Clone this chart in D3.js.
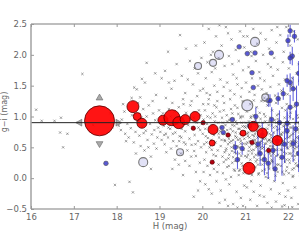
<!DOCTYPE html>
<html>
<head>
<meta charset="utf-8">
<script src="https://cdn.jsdelivr.net/npm/d3@7"></script>
<style>
  html, body { margin: 0; padding: 0; background: #fff; }
  svg { display: block; font-family: "DejaVu Sans", sans-serif; }
</style>
</head>
<body>
<div id="chart"></div>
<script>
// colour vs absolute magnitude scatter

const xTicks = [16, 17, 18, 19, 20, 21, 22];
const yTicks = [-0.5, 0.0, 0.5, 1.0, 1.5, 2.0, 2.5];
const meanLine = 0.9;

// faint field points [H, colour]
const fieldA = [[16.12,1.11],[16.7,0.98],[16.75,0.5],[16.68,0.74],[16.85,0.72],[16.25,0.93],[17.2,1.69],
  [17.96,-0.11],[17.45,0.86],[17.1,0.9],[16.55,0.93],[17.85,1.05],[17.9,0.83]];
const fieldB = [[18.3,-0.06],[18.38,-0.23],[18.41,1.47],[18.47,1.44],[18.59,1.61],[18.7,1.87],[18.55,1.31],
  [18.05,0.85],[18.1,0.78],[18.12,0.95],[18.18,1.08],[18.2,0.72],[18.25,0.88],[18.28,0.66],[18.33,0.81],
  [18.36,1.02],[18.4,0.58],[18.44,0.75],[18.48,0.93],[18.5,1.22],[18.53,0.69],[18.56,0.52],[18.6,0.84],
  [18.62,1.12],[18.65,0.45],[18.68,0.77],[18.7,1.0],[18.72,0.62],[18.75,1.18],[18.78,0.88],[18.8,0.35],
  [18.82,0.71],[18.85,1.05],[18.87,0.56],[18.9,0.94],[18.92,1.35],[18.95,0.66],[18.97,0.82],[18.99,1.1],
  [18.15,1.2],[18.22,0.6],[18.45,0.4],[18.58,0.98],[18.63,0.73],[18.74,0.5],[18.84,1.25],[18.88,0.78],
  [18.93,0.48],[18.35,1.3],[18.66,1.55],[18.9,1.7],[18.8,0.15]];
const fieldC = [[19.05,1.62],[19.13,1.74],[19.2,2.05],[19.28,1.45],[19.35,1.58],[19.48,2.32],[19.52,1.66],
  [19.6,1.38],[19.71,1.9],[19.78,1.52],[19.85,2.15],[19.9,1.7],[19.95,1.42],[19.4,1.85],[19.62,2.1],
  [19.15,1.3],[19.3,1.22],[19.55,1.28],[19.75,1.25],[19.88,1.33],[19.98,1.95],[19.22,1.55],[19.66,1.6],
  [19.82,1.78],[19.02,0.75],[19.05,0.62],[19.08,1.05],[19.1,0.85],[19.12,0.55],[19.15,0.72],[19.18,0.95],
  [19.2,0.66],[19.22,1.12],[19.25,0.8],[19.27,0.48],[19.3,0.9],[19.32,0.6],[19.35,1.08],[19.37,0.74],
  [19.4,0.52],[19.42,0.88],[19.45,1.15],[19.47,0.68],[19.5,0.4],[19.52,0.8],[19.55,0.98],[19.57,0.58],
  [19.6,0.76],[19.62,1.06],[19.65,0.45],[19.67,0.86],[19.7,0.64],[19.72,1.18],[19.75,0.54],[19.77,0.82],
  [19.8,0.98],[19.82,0.7],[19.85,0.36],[19.87,0.9],[19.9,0.6],[19.92,1.1],[19.95,0.78],[19.97,0.5],
  [19.99,0.88],[19.06,0.92],[19.16,0.42],[19.26,1.0],[19.36,0.3],[19.46,0.6],[19.56,1.2],[19.64,0.92],
  [19.74,0.35],[19.84,0.55],[19.94,0.25],[19.11,0.7],[19.21,0.82],[19.31,0.72],[19.41,0.98],[19.51,0.66],
  [19.61,0.55],[19.71,0.95],[19.81,0.44],[19.91,0.82],[19.96,1.02],[19.3,0.15],[19.55,0.05],[19.7,0.2],
  [19.85,0.1],[19.95,-0.05],[19.6,0.28],[19.45,0.22],[19.9,-0.2],[19.8,-0.3]];
const fieldD = [[20.02,1.45],[20.05,2.2],[20.08,1.62],[20.12,1.88],[20.15,2.42],[20.18,1.35],[20.22,1.72],
  [20.25,2.05],[20.28,1.5],[20.32,2.3],[20.35,1.4],[20.38,1.95],[20.42,1.6],[20.45,2.15],[20.48,1.33],
  [20.52,1.82],[20.55,2.45],[20.58,1.55],[20.62,1.98],[20.65,1.42],[20.68,2.25],[20.72,1.68],[20.75,1.36],
  [20.78,2.08],[20.82,1.52],[20.85,1.9],[20.88,2.38],[20.92,1.46],[20.95,1.75],[20.98,2.12],[20.1,1.38],
  [20.3,1.78],[20.5,1.48],[20.7,1.85],[20.9,1.32],[20.6,2.35],[20.4,2.48],[20.2,2.0],[20.8,1.62],[20.96,2.3],
  [20.01,0.72],[20.03,0.95],[20.04,0.55],[20.06,1.1],[20.07,0.8],[20.09,0.42],[20.11,0.88],[20.13,0.65],
  [20.14,1.2],[20.16,0.75],[20.17,0.5],[20.19,0.98],[20.21,0.62],[20.23,0.85],[20.24,1.05],[20.26,0.38],
  [20.27,0.7],[20.29,0.92],[20.31,0.58],[20.33,1.15],[20.34,0.78],[20.36,0.45],[20.37,0.9],[20.39,0.66],
  [20.41,1.08],[20.43,0.52],[20.44,0.82],[20.46,0.98],[20.47,0.35],[20.49,0.72],[20.51,1.22],[20.53,0.6],
  [20.54,0.86],[20.56,0.48],[20.57,1.02],[20.59,0.7],[20.61,0.32],[20.63,0.94],[20.64,0.58],[20.66,0.8],
  [20.67,1.12],[20.69,0.44],[20.71,0.76],[20.73,0.96],[20.74,0.54],[20.76,1.18],[20.77,0.68],[20.79,0.4],
  [20.81,0.88],[20.83,0.62],[20.84,1.04],[20.86,0.5],[20.87,0.8],[20.89,0.98],[20.91,0.36],[20.93,0.7],
  [20.94,1.25],[20.97,0.56],[20.99,0.84],[20.05,0.3],[20.15,1.28],[20.25,0.55],[20.35,1.25],[20.45,0.62],
  [20.55,0.3],[20.65,1.28],[20.75,0.85],[20.85,0.3],[20.95,1.0],[20.08,0.68],[20.18,0.82],[20.28,1.18],
  [20.38,0.72],[20.48,0.9],[20.58,0.92],[20.68,0.6],[20.78,0.74],[20.88,0.64],[20.98,0.76],[20.12,1.0],
  [20.32,0.36],[20.52,0.42],[20.72,0.34],[20.92,0.9],[20.22,0.46],[20.42,0.76],[20.62,0.64],[20.82,1.14],
  [20.02,1.2],[20.5,1.1],[20.7,1.05],[20.9,0.6],[20.3,1.0],[20.1,0.58],
  [20.03,0.1],[20.07,-0.1],[20.12,0.2],[20.18,0.05],[20.22,-0.25],[20.27,0.15],[20.33,-0.05],[20.38,0.22],
  [20.43,-0.2],[20.48,0.08],[20.53,-0.35],[20.58,0.18],[20.63,-0.1],[20.67,0.02],[20.72,-0.42],[20.76,0.12],
  [20.8,-0.22],[20.85,0.05],[20.9,-0.32],[20.94,0.2],[20.98,-0.12],[20.15,-0.18],[20.4,-0.4],[20.6,-0.45],
  [20.82,-0.48],[20.7,0.25],[20.5,0.26],[20.25,0.28],[20.95,-0.45],[20.88,0.14],[20.35,0.1],[20.55,-0.02]];
const fieldE = [[21.02,1.55],[21.05,2.3],[21.08,1.8],[21.1,1.4],[21.13,2.05],[21.16,1.62],[21.19,2.42],
  [21.22,1.35],[21.25,1.9],[21.28,2.18],[21.3,1.5],[21.33,1.72],[21.36,2.35],[21.39,1.44],[21.42,2.0],
  [21.45,1.58],[21.48,2.25],[21.5,1.38],[21.53,1.85],[21.56,2.1],[21.59,1.48],[21.62,2.4],[21.65,1.66],
  [21.68,1.95],[21.7,1.34],[21.73,2.2],[21.76,1.76],[21.79,1.52],[21.82,2.32],[21.85,1.42],[21.88,1.88],
  [21.9,2.05],[21.93,1.6],[21.96,2.45],[21.99,1.36],[22.02,1.78],[22.05,2.15],[22.08,1.5],[22.11,1.95],
  [22.14,2.38],[22.17,1.45],[22.2,1.7],[22.23,2.25],[22.26,1.58],[22.29,2.0],[22.32,1.4],[21.15,1.98],
  [21.45,1.3],[21.75,2.45],[22.1,1.62],[22.25,1.85],[21.6,1.8],[21.35,1.62],[22.3,2.4],
  [21.01,0.82],[21.03,0.55],[21.04,1.08],[21.06,0.68],[21.07,0.38],[21.09,0.92],[21.11,0.6],[21.12,1.2],
  [21.14,0.76],[21.15,0.45],[21.17,0.88],[21.18,0.62],[21.2,1.02],[21.21,0.34],[21.23,0.72],[21.24,0.94],
  [21.26,0.5],[21.27,1.15],[21.29,0.66],[21.31,0.84],[21.32,0.4],[21.34,1.06],[21.35,0.58],[21.37,0.78],
  [21.38,1.25],[21.4,0.48],[21.41,0.9],[21.43,0.64],[21.44,0.32],[21.46,0.8],[21.47,1.0],[21.49,0.56],
  [21.51,0.74],[21.52,1.18],[21.54,0.42],[21.55,0.86],[21.57,0.62],[21.58,0.98],[21.6,0.36],[21.61,0.7],
  [21.63,1.1],[21.64,0.52],[21.66,0.82],[21.67,0.44],[21.69,0.94],[21.71,0.66],[21.72,1.22],[21.74,0.58],
  [21.75,0.78],[21.77,0.38],[21.78,1.04],[21.8,0.6],[21.81,0.88],[21.83,0.46],[21.84,0.72],[21.86,1.14],
  [21.87,0.54],[21.89,0.84],[21.91,0.34],[21.92,0.98],[21.94,0.64],[21.95,0.8],[21.97,1.2],[21.98,0.5],
  [22.0,0.74],[22.01,0.92],[22.03,0.4],[22.04,0.68],[22.06,1.06],[22.07,0.56],[22.09,0.82],[22.1,0.36],
  [22.12,0.96],[22.13,0.62],[22.15,1.16],[22.16,0.48],[22.18,0.76],[22.19,0.9],[22.21,0.42],[22.22,1.02],
  [22.24,0.66],[22.25,0.52],[22.27,0.86],[22.28,1.24],[22.3,0.6],[22.31,0.78],[22.33,0.44],[22.34,0.96],
  [21.05,0.72],[21.13,0.98],[21.22,0.56],[21.3,0.9],[21.39,0.7],[21.48,0.44],[21.56,0.92],[21.65,0.62],
  [21.73,0.84],[21.82,0.68],[21.9,0.58],[21.99,0.86],[22.08,0.7],[22.17,0.6],[22.26,0.74],[22.32,0.7],
  [21.1,0.5],[21.28,0.3],[21.46,1.25],[21.62,0.3],[21.8,1.28],[21.96,0.3],[22.14,0.3],[22.3,1.3],
  [21.2,1.26],[21.58,0.52],[21.76,0.96],[21.94,1.1],[22.12,0.5],[22.22,0.82],[21.36,0.96],[21.52,0.6],
  [21.7,0.46],[21.88,0.74],[22.04,0.88],[22.2,0.58],
  [21.01,0.12],[21.04,-0.15],[21.08,0.24],[21.12,-0.35],[21.16,0.05],[21.2,-0.22],[21.24,0.18],[21.28,-0.45],
  [21.32,0.08],[21.36,-0.12],[21.4,0.22],[21.44,-0.3],[21.48,0.02],[21.52,-0.4],[21.56,0.15],[21.6,-0.18],
  [21.64,0.26],[21.68,-0.05],[21.72,-0.38],[21.76,0.1],[21.8,-0.25],[21.84,0.2],[21.88,-0.08],[21.92,-0.44],
  [21.96,0.12],[22.0,-0.2],[22.04,0.25],[22.08,-0.32],[22.12,0.04],[22.16,-0.15],[22.2,0.2],[22.24,-0.42],
  [22.28,0.06],[22.32,-0.24],[21.14,-0.05],[21.34,-0.28],[21.54,0.0],[21.74,0.22],[21.94,-0.3],[22.14,0.16],
  [22.3,-0.1],[21.62,-0.48],[21.86,-0.46],[22.1,-0.47],[21.25,0.27],[21.46,0.14],[22.26,0.28],[22.02,0.08]];
// the dark core of the faint population
const fieldF = [[20.52,0.62],[20.55,0.45],[20.58,0.78],[20.6,0.55],[20.63,0.38],[20.65,0.7],[20.68,0.5],
  [20.7,0.86],[20.72,0.62],[20.75,0.42],[20.77,0.28],[20.8,0.66],[20.82,0.52],[20.84,0.8],[20.86,0.4],
  [20.88,0.72],[20.9,0.56],[20.92,0.24],[20.94,0.84],[20.96,0.46],[20.98,0.64],[21.0,0.36],[21.02,0.9],
  [21.03,0.2],[21.05,0.58],[21.07,0.74],[21.08,0.44],[21.1,0.66],[21.12,0.3],[21.13,0.82],[21.15,0.54],
  [21.17,0.7],[21.18,0.16],[21.2,0.46],[21.22,0.88],[21.23,0.62],[21.25,0.38],[21.27,0.76],[21.28,0.52],
  [21.3,0.22],[21.32,0.68],[21.33,0.44],[21.35,0.84],[21.37,0.3],[21.38,0.6],[21.4,0.12],[21.42,0.76],
  [21.43,0.5],[21.45,0.36],[21.47,0.92],[21.48,0.64],[21.5,0.26],[21.52,0.8],[21.53,0.48],[21.55,0.18],
  [21.57,0.72],[21.58,0.4],[21.6,0.58],[21.62,0.86],[21.63,0.28],[21.65,0.5],[21.67,0.74],[21.68,0.14],
  [21.7,0.62],[21.72,0.36],[21.73,0.9],[21.75,0.46],[21.77,0.68],[21.78,0.22],[21.8,0.8],[21.82,0.54],
  [21.83,0.32],[21.85,0.7],[21.87,0.1],[21.88,0.6],[21.9,0.42],[21.92,0.86],[21.93,0.26],[21.95,0.56],
  [21.97,0.74],[21.98,0.18],[22.0,0.48],[22.02,0.66],[22.03,0.3],[22.05,0.82],[22.07,0.4],[22.08,0.6],
  [22.1,0.14],[22.12,0.72],[22.13,0.44],[22.15,0.56],[22.17,0.88],[22.18,0.24],[22.2,0.66],[22.22,0.38],
  [22.23,0.78],[22.25,0.2],[22.27,0.54],[22.28,0.42],[22.3,0.84],[22.32,0.3],[22.33,0.62],[22.35,0.48],
  [21.04,0.34],[21.16,0.4],[21.26,0.58],[21.36,0.5],[21.46,0.56],[21.56,0.62],[21.66,0.4],[21.76,0.56],
  [21.86,0.46],[21.96,0.4],[22.06,0.52],[22.16,0.36],[22.26,0.64],[22.34,0.22],[21.11,0.1],[21.31,0.06],
  [21.51,0.08],[21.71,0.04],[21.91,0.06],[22.11,0.02],[22.31,0.08],[21.21,0.68],[21.41,0.64],[21.61,0.66],
  [21.81,0.62],[22.01,0.58],[22.21,0.5],[20.62,0.2],[20.74,0.14],[20.86,0.12],[20.96,0.08],[20.66,0.96],
  [20.78,0.92],[20.9,1.0],[21.14,1.0],[21.44,1.04],[21.74,1.02],[22.04,1.0],[22.24,0.98]];

// blue points [H, colour, error]
const bluePts = [[20.86,2.13,0],[21.05,2.02,0],[21.23,2.03,0],[21.61,2.03,0],[22.05,2.39,0.1],[22.0,2.23,0.1],
  [22.1,1.98,0.15],[21.16,1.71,0],[22.05,1.55,0.15],[21.19,1.47,0],[21.54,1.26,0.1],[21.77,1.29,0.1],
  [21.89,1.37,0.1],[17.75,0.24,0],[20.46,0.82,0],[20.93,0.48,0.1],[21.35,0.4,0.2],[21.54,0.24,0.25],
  [21.86,0.34,0.3],[21.98,0.77,0.3],[20.49,0.74,0],[20.77,0.5,0.1],[21.98,0.89,0.25],[22.12,0.56,0.3],
  [21.58,1.26,0.1],[22.05,1.15,0.2],[21.98,1.58,0.1],[22.05,1.95,0.1],[22.25,1.7,0.2],[22.2,1.2,0.3],
  [22.3,0.9,0.35],[21.75,0.6,0.25],[21.4,0.7,0.2],[21.1,0.85,0],[20.7,0.95,0],[22.25,0.4,0.3],
  [22.15,2.3,0.1],[21.7,0.15,0.2],[21.3,0.55,0.2],[21.45,0.3,0.25],[21.65,0.45,0.3],[21.8,0.9,0.2],
  [21.92,0.55,0.3],[22.18,0.8,0.3],[22.28,0.2,0.25],[21.25,1.0,0.15],[21.62,0.95,0.2],[22.12,1.45,0.2],
  [20.82,0.3,0.15]];

// open grey circles [H, colour, radius]
const openPts = [[20.39,2.0,4.5],[20.25,1.87,3.5],[19.9,1.82,3.5],[21.23,2.21,4.5],[21.05,1.18,5.5],
  [21.47,1.31,3.5],[18.62,0.26,4.5],[19.48,0.42,3.5]];

// red points [H, colour, radius]
const redPts = [[17.6,0.93,15],[18.38,1.16,6],[18.48,1.0,4],[18.59,0.89,5],[19.08,0.94,5],[19.29,0.98,8],
  [19.45,0.9,6],[19.6,0.95,5],[19.83,1.0,5],[20.25,0.79,5],[20.23,0.57,3],[21.19,0.84,5],[21.4,0.73,5],
  [21.75,0.61,5],[21.09,0.16,6],[20.95,0.73,3]];
// small dark red points [H, colour]
const smallRed = [[20.02,0.9],[21.16,0.58],[20.23,0.26],[19.79,0.81],[21.55,0.45],[20.6,0.7]];

// limits around the brightest object
const bigH = 17.6;
const bigColLimits = [0.56, 1.3];
const bigHLimits = [17.14, 18.03];

const W = 299, H = 240;
const svg = d3.select('#chart').append('svg').attr('width', W).attr('height', H);

const x = d3.scaleLinear().domain([16, 22.5]).range([31, 309.4]);
const y = d3.scaleLinear().domain([-0.5, 2.5]).range([209, 24]);

svg.append('clipPath').attr('id', 'clip').append('rect')
    .attr('x', 31).attr('y', 24).attr('width', 280).attr('height', 185);

const plot = svg.append('g').attr('clip-path', 'url(#clip)');

// field points as little crosses
const field = fieldA.concat(fieldB, fieldC, fieldD, fieldE, fieldF);
plot.append('g').selectAll('path').data(field).enter().append('path')
    .attr('d', d => {
        const px = x(d[0]), py = y(d[1]), s = 1.2;
        return `M${px - s},${py - s}L${px + s},${py + s}M${px - s},${py + s}L${px + s},${py - s}`;
    })
    .attr('stroke', '#333')
    .attr('stroke-opacity', 0.55)
    .attr('stroke-width', 0.8)
    .attr('fill', 'none');

// blue error bars and points
plot.append('g').selectAll('line').data(bluePts.filter(d => d[2] > 0)).enter().append('line')
    .attr('x1', d => x(d[0])).attr('x2', d => x(d[0]))
    .attr('y1', d => y(d[1] - d[2])).attr('y2', d => y(d[1] + d[2]))
    .attr('stroke', '#2222d0').attr('stroke-opacity', 0.75).attr('stroke-width', 1);

plot.append('g').selectAll('circle').data(bluePts).enter().append('circle')
    .attr('cx', d => x(d[0])).attr('cy', d => y(d[1]))
    .attr('r', 2.3)
    .attr('fill', '#3030c8').attr('fill-opacity', 0.8)
    .attr('stroke', '#555').attr('stroke-width', 0.6);

plot.append('g').selectAll('circle').data(openPts).enter().append('circle')
    .attr('cx', d => x(d[0])).attr('cy', d => y(d[1]))
    .attr('r', d => d[2])
    .attr('fill', '#8888dd').attr('fill-opacity', 0.25)
    .attr('stroke', '#777').attr('stroke-width', 1.1);

// limit markers around the large red point
const tri = d3.symbol().type(d3.symbolTriangle).size(20);
plot.append('g').selectAll('path').data(bigColLimits).enter().append('path')
    .attr('d', tri)
    .attr('transform', (d, i) => `translate(${x(bigH)},${y(d)}) rotate(${i === 0 ? 180 : 0})`)
    .attr('fill', '#aaa').attr('stroke', '#666').attr('stroke-width', 0.6);
plot.append('g').selectAll('path').data(bigHLimits).enter().append('path')
    .attr('d', tri)
    .attr('transform', (d, i) => `translate(${x(d)},${y(meanLine)}) rotate(${i === 0 ? -90 : 90})`)
    .attr('fill', '#aaa').attr('stroke', '#666').attr('stroke-width', 0.6);

plot.append('g').selectAll('circle').data(smallRed).enter().append('circle')
    .attr('cx', d => x(d[0])).attr('cy', d => y(d[1]))
    .attr('r', 2.2)
    .attr('fill', '#b00010').attr('stroke', '#400').attr('stroke-width', 0.5);

plot.append('g').selectAll('circle').data(redPts).enter().append('circle')
    .attr('cx', d => x(d[0])).attr('cy', d => y(d[1]))
    .attr('r', d => d[2])
    .attr('fill', '#f00').attr('fill-opacity', 0.92)
    .attr('stroke', '#500').attr('stroke-width', 0.8);

// mean line
plot.append('line')
    .attr('x1', x(16)).attr('x2', x(22.5))
    .attr('y1', y(meanLine)).attr('y2', y(meanLine))
    .attr('stroke', '#222').attr('stroke-width', 1);

// axes frame
const axisCol = '#a8a8a8';
svg.append('line').attr('x1', 31).attr('x2', 310).attr('y1', 24).attr('y2', 24)
    .attr('stroke', axisCol).attr('stroke-width', 1.6);
svg.append('line').attr('x1', 31).attr('x2', 310).attr('y1', 209).attr('y2', 209)
    .attr('stroke', axisCol).attr('stroke-width', 1.6);
svg.append('line').attr('x1', 31).attr('x2', 31).attr('y1', 24).attr('y2', 209)
    .attr('stroke', axisCol).attr('stroke-width', 1.6);

const xAxis = svg.append('g').attr('transform', 'translate(0,209)')
    .call(d3.axisBottom(x).tickValues(xTicks).tickSize(-3).tickPadding(5).tickFormat(d3.format('d')));
const xTop = svg.append('g').attr('transform', 'translate(0,24)')
    .call(d3.axisTop(x).tickValues(xTicks).tickSize(-3).tickFormat(''));
const yAxis = svg.append('g').attr('transform', 'translate(31,0)')
    .call(d3.axisLeft(y).tickValues(yTicks).tickSize(-3).tickPadding(4).tickFormat(d3.format('.1f')));

[xAxis, xTop, yAxis].forEach(a => {
    a.select('.domain').remove();
    a.selectAll('.tick line').attr('stroke', '#999');
    a.selectAll('.tick text').attr('fill', '#666').attr('font-size', 8.5)
        .attr('font-family', '"DejaVu Sans", sans-serif');
});
yAxis.selectAll('.tick text').text(d => d3.format('.1f')(d).replace('-', '\u2212'));

svg.append('text').attr('x', 170).attr('y', 229).attr('text-anchor', 'middle')
    .attr('font-size', 8.5).attr('fill', '#666').text('H (mag)');
svg.append('text').attr('transform', 'translate(7,112) rotate(-90)').attr('text-anchor', 'middle')
    .attr('font-size', 8).attr('fill', '#666').text('g\u2212i (mag)');
</script>
</body>
</html>
